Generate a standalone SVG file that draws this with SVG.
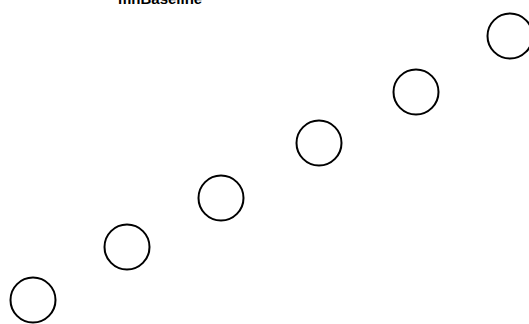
<svg xmlns="http://www.w3.org/2000/svg" width="529" height="324" viewBox="0 0 529 324">
<style>
.n{fill:#fff;stroke:#000;stroke-width:2}
.t{font-family:"Liberation Sans",Arial,sans-serif;font-size:15px;font-weight:bold;fill:#000}
</style>
<rect width="529" height="324" fill="#fff"/>
<text class="t" x="118" y="4">mnBaseline</text>
<g id="connectors"></g>
<g id="n1"><circle class="n" cx="33" cy="300" r="22.5"/></g>
<g id="n2"><circle class="n" cx="127" cy="247" r="22.5"/></g>
<g id="n3"><circle class="n" cx="221" cy="198" r="22.5"/></g>
<g id="n4"><circle class="n" cx="319" cy="143" r="22.5"/></g>
<g id="n5"><circle class="n" cx="416" cy="92" r="22.5"/></g>
<g id="n6"><circle class="n" cx="510" cy="36" r="22.5"/></g>
</svg>
